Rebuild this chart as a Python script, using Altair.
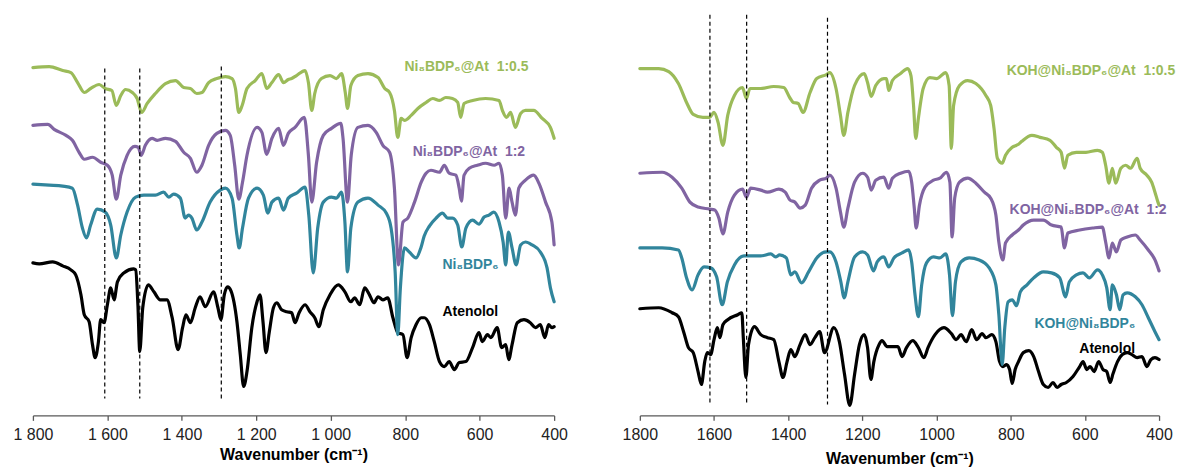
import altair as alt
import pandas as pd

# ---------------- Left panel: Ni8BDP6 / Ni8BDP6@At ----------------
aL_wn = [1800,1783,1747,1720,1698,1685,1671,1662,1649,1640,
         1633,1624,1618,1609,1600,1591,1582,1573,1556,1529,
         1524,1518,1513,1505,1490,1475,1458,1440,1426,1410,
         1398,1389,1377,1364,1351,1337,1315,1303,1295,1286,
         1277,1268,1252,1243,1234,1225,1212,1198,1190,1182,
         1174,1165,1154,1145,1132,1118,1105,1096,1085,1069,
         1056,1043,1032,1020,1002,980,962,946,936,922,
         909,896,884,873,860,847,833,820,806,795,
         784,771,757,749,735,722,708,695,682,668,
         655,637,619,602,593,579,570,553,541,530,
         522,513,499,481,464,450,437,425,415,406,
         400]
aL_v = [153,152,154,150,146,141,121,101,94,71,
        58,74,96,93,111,128,116,134,143,147,
        146,111,64,108,131,124,116,116,98,66,
        88,101,93,108,119,109,124,108,96,121,
        129,125,94,61,29,44,88,114,121,94,
        63,84,108,113,106,104,103,93,103,111,
        104,98,89,106,121,131,124,114,118,111,
        128,121,113,119,116,118,98,83,81,58,
        78,91,98,98,91,74,54,49,54,46,
        53,54,68,83,74,81,78,88,68,71,
        56,71,93,96,93,88,91,78,91,88,
        89]

tL_wn = [1800,1756,1720,1694,1680,1667,1656,1645,1627,1606,
         1591,1576,1564,1547,1524,1502,1471,1449,1435,1422,
         1404,1391,1382,1373,1360,1346,1324,1297,1283,1265,
         1252,1246,1237,1221,1198,1181,1169,1158,1140,1127,
         1114,1092,1069,1059,1047,1035,1020,998,985,971,
         962,955,946,927,900,873,851,838,827,820,
         813,802,789,771,758,749,735,717,700,686,
         673,659,648,637,619,602,588,575,562,548,
         537,530,523,513,502,490,477,459,437,419,
         410,400]
tL_v = [232,231,230,228,211,188,178,191,207,204,
        191,158,181,204,219,221,221,224,219,222,
        218,198,201,198,186,194,214,226,228,218,
        181,168,188,218,228,221,203,214,218,206,
        218,223,229,201,143,188,214,219,218,224,
        194,144,188,214,218,211,203,188,144,81,
        128,168,164,158,168,180,190,198,203,198,
        198,191,169,188,196,192,199,201,204,194,
        174,151,184,168,151,171,174,171,164,148,
        128,114]

pL_wn = [1800,1760,1743,1711,1694,1676,1662,1640,1618,1600,
         1587,1576,1564,1547,1526,1517,1509,1498,1480,1466,
         1444,1417,1395,1377,1360,1346,1328,1306,1283,1270,
         1258,1247,1237,1225,1198,1185,1172,1158,1140,1127,
         1114,1096,1071,1060,1051,1038,1020,998,973,967,
         955,945,927,900,878,860,842,829,818,806,
         793,775,757,744,731,708,695,682,664,655,
         649,642,628,606,584,561,548,539,530,521,
         513,504,495,477,455,441,423,406,400]
pL_v = [291,292,287,281,276,264,257,259,254,251,
        241,217,241,261,270,269,261,271,278,276,
        278,275,264,258,244,251,271,283,286,281,
        251,217,234,261,289,284,262,278,288,271,
        283,289,299,261,214,254,281,288,293,278,
        214,261,289,291,284,271,264,228,151,194,
        198,214,234,243,246,244,251,243,241,228,
        215,241,248,251,253,251,253,241,198,228,
        214,201,228,236,241,233,214,194,171]

gL_wn = [1800,1756,1720,1698,1680,1662,1645,1622,1606,1588,
         1576,1564,1551,1533,1520,1508,1493,1471,1444,1417,
         1395,1377,1360,1346,1328,1306,1283,1265,1256,1247,
         1238,1225,1203,1185,1172,1158,1140,1127,1114,1105,
         1092,1069,1060,1051,1043,1025,1002,985,971,961,
         955,946,927,900,873,855,842,829,820,811,
         802,784,766,744,726,708,691,673,659,651,
         642,619,584,548,539,528,517,504,490,477,
         455,432,410,400]
gL_v = [349,350,346,344,334,324,328,332,328,326,
        311,321,327,324,318,304,313,323,333,336,
        329,328,323,324,334,338,340,338,328,304,
        311,328,336,343,328,334,342,334,337,338,
        341,346,334,306,323,338,341,338,343,324,
        308,331,341,343,339,328,324,306,279,298,
        296,301,308,314,318,316,319,318,314,299,
        313,316,318,316,306,299,304,289,303,306,
        306,298,289,278]

# ---------------- Right panel: KOH@Ni8BDP6 / KOH@Ni8BDP6@At ----------------
aR_wn = [1800,1749,1713,1696,1682,1669,1656,1643,1634,1625,
         1618,1609,1600,1591,1584,1576,1563,1536,1525,1521,
         1514,1507,1491,1474,1456,1439,1425,1414,1403,1393,
         1382,1368,1354,1341,1328,1315,1302,1277,1262,1248,
         1234,1221,1208,1195,1186,1177,1169,1155,1147,1133,
         1119,1104,1093,1081,1064,1049,1034,1023,1004,980,
         960,947,934,920,905,892,877,867,851,840,
         830,821,811,803,796,788,779,766,751,738,
         725,712,699,686,675,664,650,632,614,605,
         595,586,575,563,551,541,532,524,512,499,
         486,473,459,446,433,422,411,400]
aR_v = [107,108,103,99,84,68,63,44,31,54,
        63,61,76,88,78,91,96,101,103,78,
        38,71,89,81,78,76,54,38,54,66,
        59,71,81,71,78,84,63,88,74,41,
        10,41,71,81,68,36,54,71,75,69,
        69,69,59,68,75,68,58,68,81,88,
        82,76,81,74,86,76,82,78,81,74,
        54,49,51,46,32,46,54,63,65,59,
        44,31,28,33,28,31,33,39,49,54,
        46,49,44,54,46,44,33,42,54,61,
        63,61,58,59,49,56,58,56]

tR_wn = [1800,1740,1696,1687,1674,1659,1643,1627,1609,1593,
         1578,1564,1545,1519,1474,1447,1434,1423,1405,1393,
         1382,1364,1345,1323,1297,1288,1271,1258,1249,1239,
         1221,1199,1186,1170,1160,1142,1129,1115,1093,1075,
         1067,1058,1049,1040,1027,1008,991,975,965,957,
         949,934,912,885,858,840,832,823,816,807,
         796,784,774,756,738,712,690,668,652,642,
         623,605,588,566,553,541,532,526,515,506,
         497,486,464,446,429,411,400]
tR_v = [168,168,166,158,138,126,141,149,148,139,
        111,134,151,160,160,162,159,161,158,141,
        144,133,144,158,164,164,154,134,118,134,
        159,164,161,145,154,159,149,158,163,166,
        154,121,99,131,153,159,158,162,141,100,
        134,154,158,156,148,131,101,51,88,114,
        116,110,124,131,138,144,143,138,119,134,
        141,143,138,146,141,128,106,131,121,106,
        121,123,119,111,98,84,76]

pR_wn = [1800,1740,1713,1687,1665,1643,1612,1598,1587,1576,
         1563,1545,1523,1513,1501,1474,1456,1425,1408,1395,
         1382,1368,1354,1337,1315,1297,1288,1271,1259,1250,
         1239,1221,1199,1186,1176,1164,1142,1129,1119,1097,
         1075,1067,1060,1055,1046,1031,1008,991,973,964,
         958,951,938,916,894,871,854,840,832,821,
         814,796,779,766,738,712,690,664,655,646,
         614,579,553,544,535,526,515,503,486,464,
         451,429,411,400]
pR_v = [243,244,239,228,214,209,207,206,198,182,
        204,221,227,219,228,226,224,227,224,216,
        214,208,211,228,236,238,241,228,204,189,
        208,234,243,239,226,236,239,228,238,243,
        245,234,208,188,211,229,236,238,244,234,
        179,218,234,238,233,224,218,201,174,156,
        173,181,186,191,196,196,191,189,168,183,
        186,188,189,174,158,173,164,176,179,181,
        176,166,156,145]

gR_wn = [1800,1749,1722,1696,1674,1656,1630,1612,1600,1589,
         1576,1563,1545,1523,1513,1503,1474,1439,1412,1396,
         1386,1373,1360,1341,1323,1297,1288,1271,1259,1250,
         1239,1221,1195,1186,1176,1164,1142,1135,1129,1119,
         1097,1078,1069,1062,1056,1049,1036,1018,1000,975,
         966,960,954,938,916,894,867,854,845,836,
         823,814,796,779,770,743,721,694,677,664,
         655,646,623,597,566,553,544,535,526,517,
         503,490,477,459,451,433,420,411,403,400]
gR_v = [348,348,345,333,314,302,299,299,304,294,
        271,301,321,329,318,328,328,330,329,319,
        314,313,304,324,338,342,344,328,301,281,
        304,331,343,334,320,331,338,338,326,336,
        343,348,341,311,278,298,328,339,338,344,
        331,268,311,331,336,333,321,311,288,258,
        253,261,269,272,275,281,279,276,269,264,
        248,261,264,264,266,264,251,233,248,233,
        248,251,248,258,248,241,234,224,214,211]

# Reference lines (dashed) and series labels
dashL_wn = [1607, 1513, 1294]
dashL_top = [348, 348, 350]
dashL_bot = [17, 17, 17]
dashR_wn = [1611, 1512, 1294]
dashR_top = [402, 402, 399]
dashR_bot = [11, 11, 11]

names = ["Atenolol", "Ni8BDP6", "Ni8BDP6@At 1:2", "Ni8BDP6@At 1:0.5"]
colors = ["#000000", "#31859C", "#8064A2", "#9BBB59"]

labL_text = ["Ni\u2088BDP\u2086@At\u00a0 1:0.5", "Ni\u2088BDP\u2086@At\u00a0 1:2", "Ni\u2088BDP\u2086", "Atenolol"]
labL_wn = [802, 780, 700, 700]
labL_v = [350, 264, 151, 104]
labR_text = ["KOH@Ni\u2088BDP\u2086@At\u00a0 1:0.5", "KOH@Ni\u2088BDP\u2086@At\u00a0 1:2", "KOH@Ni\u2088BDP\u2086", "Atenolol"]
labR_wn = [811, 803, 736, 615]
labR_v = [346, 206, 92, 67]
lab_series = ["Ni8BDP6@At 1:0.5", "Ni8BDP6@At 1:2", "Ni8BDP6", "Atenolol"]

ticks = [1800, 1600, 1400, 1200, 1000, 800, 600, 400]
FONT = "Liberation Sans"


def spectra_df(items):
    frames = []
    for name, wn, val in items:
        assert len(wn) == len(val), name
        frames.append(pd.DataFrame({"wn": wn, "T": val, "series": name,
                                    "idx": list(range(len(wn)))}))
    return pd.concat(frames, ignore_index=True)


def panel(items, dash_wn, dash_top, dash_bot, lab_text, lab_wn, lab_v,
          width, label_expr, title_pad):
    xs = alt.Scale(domain=[400, 1800], reverse=True, nice=False, zero=False)
    ys = alt.Scale(domain=[0, 403], nice=False, zero=False)
    ax = alt.Axis(values=ticks, title="Wavenumber (cm\u207b\u00b9)", labelExpr=label_expr,
                  titlePadding=title_pad, labelFlush=False, labelOverlap=False, grid=False)
    color = alt.Color("series:N", scale=alt.Scale(domain=names, range=colors), legend=None)

    lines = alt.Chart(spectra_df(items)).mark_line(
        strokeWidth=3.2, strokeJoin="round", strokeCap="round", interpolate="monotone"
    ).encode(
        x=alt.X("wn:Q", scale=xs, axis=ax),
        y=alt.Y("T:Q", scale=ys, axis=None),
        color=color,
        order="idx:Q",
    )
    dash_df = pd.DataFrame({"wn": dash_wn, "T": dash_top, "T2": dash_bot})
    rules = alt.Chart(dash_df).mark_rule(
        strokeDash=[4, 3], strokeWidth=1.2, color="#000000"
    ).encode(
        x=alt.X("wn:Q", scale=xs, axis=ax),
        y=alt.Y("T:Q", scale=ys, axis=None),
        y2="T2:Q",
    )
    lab_df = pd.DataFrame({"wn": lab_wn, "T": lab_v, "label": lab_text, "series": lab_series})
    labels = alt.Chart(lab_df).mark_text(
        align="left", baseline="middle", fontSize=14, fontWeight="bold",
        font="Liberation Sans, DejaVu Sans"
    ).encode(
        x=alt.X("wn:Q", scale=xs, axis=ax),
        y=alt.Y("T:Q", scale=ys, axis=None),
        text="label:N",
        color=color,
    )
    return alt.layer(lines, rules, labels).properties(width=width, height=403)


left = panel(
    [("Atenolol", aL_wn, aL_v), ("Ni8BDP6", tL_wn, tL_v),
     ("Ni8BDP6@At 1:2", pL_wn, pL_v), ("Ni8BDP6@At 1:0.5", gL_wn, gL_v)],
    dashL_wn, dashL_top, dashL_bot, labL_text, labL_wn, labL_v,
    523, "replace(format(datum.value, ','), ',', ' ')", 4,
)
right = panel(
    [("Atenolol", aR_wn, aR_v), ("Ni8BDP6", tR_wn, tR_v),
     ("Ni8BDP6@At 1:2", pR_wn, pR_v), ("Ni8BDP6@At 1:0.5", gR_wn, gR_v)],
    dashR_wn, dashR_top, dashR_bot, labR_text, labR_wn, labR_v,
    521, "format(datum.value, 'd')", 8,
)

chart = alt.hconcat(left, right, spacing=86, bounds="flush").properties(
    padding={"left": 4, "right": 0, "top": 5, "bottom": 0}
).configure_view(stroke=None).configure_axis(
    domainColor="#595959", domainWidth=1.3, tickColor="#595959", tickWidth=1.3,
    tickSize=5, labelColor="#222222", labelFont=FONT, labelFontSize=16,
    labelPadding=6, titleFont=FONT, titleFontSize=16, titleFontWeight="bold",
    titleColor="#000000",
)

chart.save("out.html", embed_options={"renderer": "svg", "actions": False})
